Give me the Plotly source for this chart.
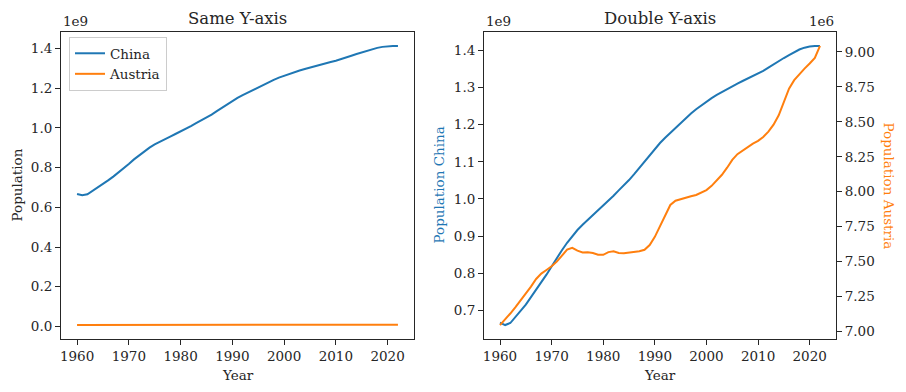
import plotly.graph_objects as go

years = list(range(1960, 2023))

china_millions = [
    667.07, 660.33, 665.77, 682.34, 698.36, 715.19, 735.40, 754.55, 774.51, 796.03,
    818.32, 841.11, 862.03, 881.94, 900.35, 916.40, 930.69, 943.46, 956.17, 969.01,
    981.24, 993.89, 1008.63, 1023.31, 1036.83, 1051.04, 1066.79, 1084.04, 1101.63, 1118.65,
    1135.19, 1150.78, 1164.97, 1178.44, 1191.84, 1204.86, 1217.55, 1230.08, 1241.94, 1252.74,
    1262.65, 1271.85, 1280.40, 1288.40, 1296.08, 1303.72, 1311.02, 1317.89, 1324.66, 1331.26,
    1337.71, 1345.04, 1354.19, 1363.24, 1371.86, 1379.86, 1387.79, 1396.22, 1402.76, 1407.75,
    1411.10, 1412.36, 1412.18,
]

austria_millions = [
    7.0475, 7.0863, 7.1299, 7.1758, 7.2238, 7.2709, 7.3221, 7.3770, 7.4154, 7.4411,
    7.4671, 7.5005, 7.5442, 7.5861, 7.5990, 7.5789, 7.5655, 7.5684, 7.5623, 7.5494,
    7.5494, 7.5687, 7.5741, 7.5619, 7.5614, 7.5650, 7.5698, 7.5746, 7.5853, 7.6196,
    7.6779, 7.7549, 7.8407, 7.9056, 7.9361, 7.9483, 7.9590, 7.9680, 7.9768, 7.9923,
    8.0116, 8.0423, 8.0820, 8.1214, 8.1720, 8.2278, 8.2686, 8.2955, 8.3215, 8.3433,
    8.3634, 8.3916, 8.4300, 8.4798, 8.5464, 8.6427, 8.7367, 8.7976, 8.8405, 8.8799,
    8.9169, 8.9558, 9.0419,
]

china = [v * 1e6 for v in china_millions]
austria = [v * 1e6 for v in austria_millions]

x_ticks = [1960, 1970, 1980, 1990, 2000, 2010, 2020]
left_y_ticks = [0.0, 0.2, 0.4, 0.6, 0.8, 1.0, 1.2, 1.4]
china_ticks = [0.7, 0.8, 0.9, 1.0, 1.1, 1.2, 1.3, 1.4]
austria_ticks = [7.00, 7.25, 7.50, 7.75, 8.00, 8.25, 8.50, 8.75, 9.00]

BLUE = "#1f77b4"
ORANGE = "#ff7f0e"
INK = "#262626"
FONT = "DejaVu Serif"
W, H = 906, 392


def px_x(p):
    return p / W


def px_y(p):
    return 1 - p / H


def span(vals, frac=0.05):
    lo, hi = min(vals), max(vals)
    pad = (hi - lo) * frac
    return [lo - pad, hi + pad]


fig = go.Figure()
fig.add_trace(go.Scatter(x=years, y=china, mode="lines", name="China",
                         line=dict(color=BLUE, width=2), xaxis="x", yaxis="y"))
fig.add_trace(go.Scatter(x=years, y=austria, mode="lines", name="Austria",
                         line=dict(color=ORANGE, width=2), xaxis="x", yaxis="y"))
fig.add_trace(go.Scatter(x=years, y=china, mode="lines", name="China",
                         line=dict(color=BLUE, width=2), xaxis="x2", yaxis="y2",
                         showlegend=False))
fig.add_trace(go.Scatter(x=years, y=austria, mode="lines", name="Austria",
                         line=dict(color=ORANGE, width=2), xaxis="x2", yaxis="y3",
                         showlegend=False))

ax_common = dict(showline=True, linecolor=INK, linewidth=1, ticks="outside",
                 ticklen=5, tickwidth=1, tickcolor=INK, showgrid=False,
                 zeroline=False, automargin=False,
                 tickfont=dict(family=FONT, size=13.5, color=INK))

yd = [px_y(339), px_y(32)]
xr = span(years)

fig.update_layout(
    width=W, height=H,
    margin=dict(l=0, r=0, t=0, b=0),
    paper_bgcolor="white", plot_bgcolor="white",
    font=dict(family=FONT, size=13.5, color=INK),
    xaxis=dict(domain=[px_x(61), px_x(414)], anchor="y", range=xr,
               tickvals=x_ticks, mirror=True, **ax_common),
    yaxis=dict(domain=yd, anchor="x", range=span(china + austria),
               tickvals=[v * 1e9 for v in left_y_ticks],
               ticktext=[f"{v:.1f}" for v in left_y_ticks], mirror=True, **ax_common),
    xaxis2=dict(domain=[px_x(484), px_x(836)], anchor="y2", range=xr,
                tickvals=x_ticks, mirror=True, **ax_common),
    yaxis2=dict(domain=yd, anchor="x2", range=span(china),
                tickvals=[v * 1e9 for v in china_ticks],
                ticktext=[f"{v:.1f}" for v in china_ticks], **ax_common),
    yaxis3=dict(overlaying="y2", anchor="x2", side="right", range=span(austria),
                tickvals=[v * 1e6 for v in austria_ticks],
                ticktext=[f"{v:.2f}" for v in austria_ticks], **ax_common),
    legend=dict(x=px_x(69), y=px_y(37), xanchor="left", yanchor="top",
                bgcolor="white", bordercolor="#cccccc", borderwidth=1,
                font=dict(family=FONT, size=13.5, color=INK),
                itemwidth=30, tracegroupgap=0),
    showlegend=True,
)

ann = [
    dict(text="Same Y-axis", x=px_x(237.5), y=px_y(18), size=16.5, color=INK),
    dict(text="Double Y-axis", x=px_x(660), y=px_y(18), size=16.5, color=INK),
    dict(text="1e9", x=px_x(61), y=px_y(21), xanchor="left", size=13.5, color=INK),
    dict(text="1e9", x=px_x(484), y=px_y(21), xanchor="left", size=13.5, color=INK),
    dict(text="1e6", x=px_x(836), y=px_y(21), xanchor="right", size=13.5, color=INK),
    dict(text="Year", x=px_x(237.5), y=px_y(375), size=13.5, color=INK),
    dict(text="Year", x=px_x(660), y=px_y(375), size=13.5, color=INK),
    dict(text="Population", x=px_x(16), y=px_y(185.5), size=13.5, color=INK, angle=-90),
    dict(text="Population China", x=px_x(438), y=px_y(185.5), size=13.5, color=BLUE, angle=-90),
    dict(text="Population Austria", x=px_x(889), y=px_y(185.5), size=13.5, color=ORANGE, angle=90),
]
for a in ann:
    fig.add_annotation(text=a["text"], x=a["x"], y=a["y"], xref="paper", yref="paper",
                       xanchor=a.get("xanchor", "center"), yanchor="middle",
                       showarrow=False, textangle=a.get("angle", 0),
                       font=dict(family=FONT, size=a["size"], color=a["color"]))

fig.write_html("out.html",
               config={"displayModeBar": False},
               post_script="document.body.style.margin='0';document.body.style.overflow='hidden';")
